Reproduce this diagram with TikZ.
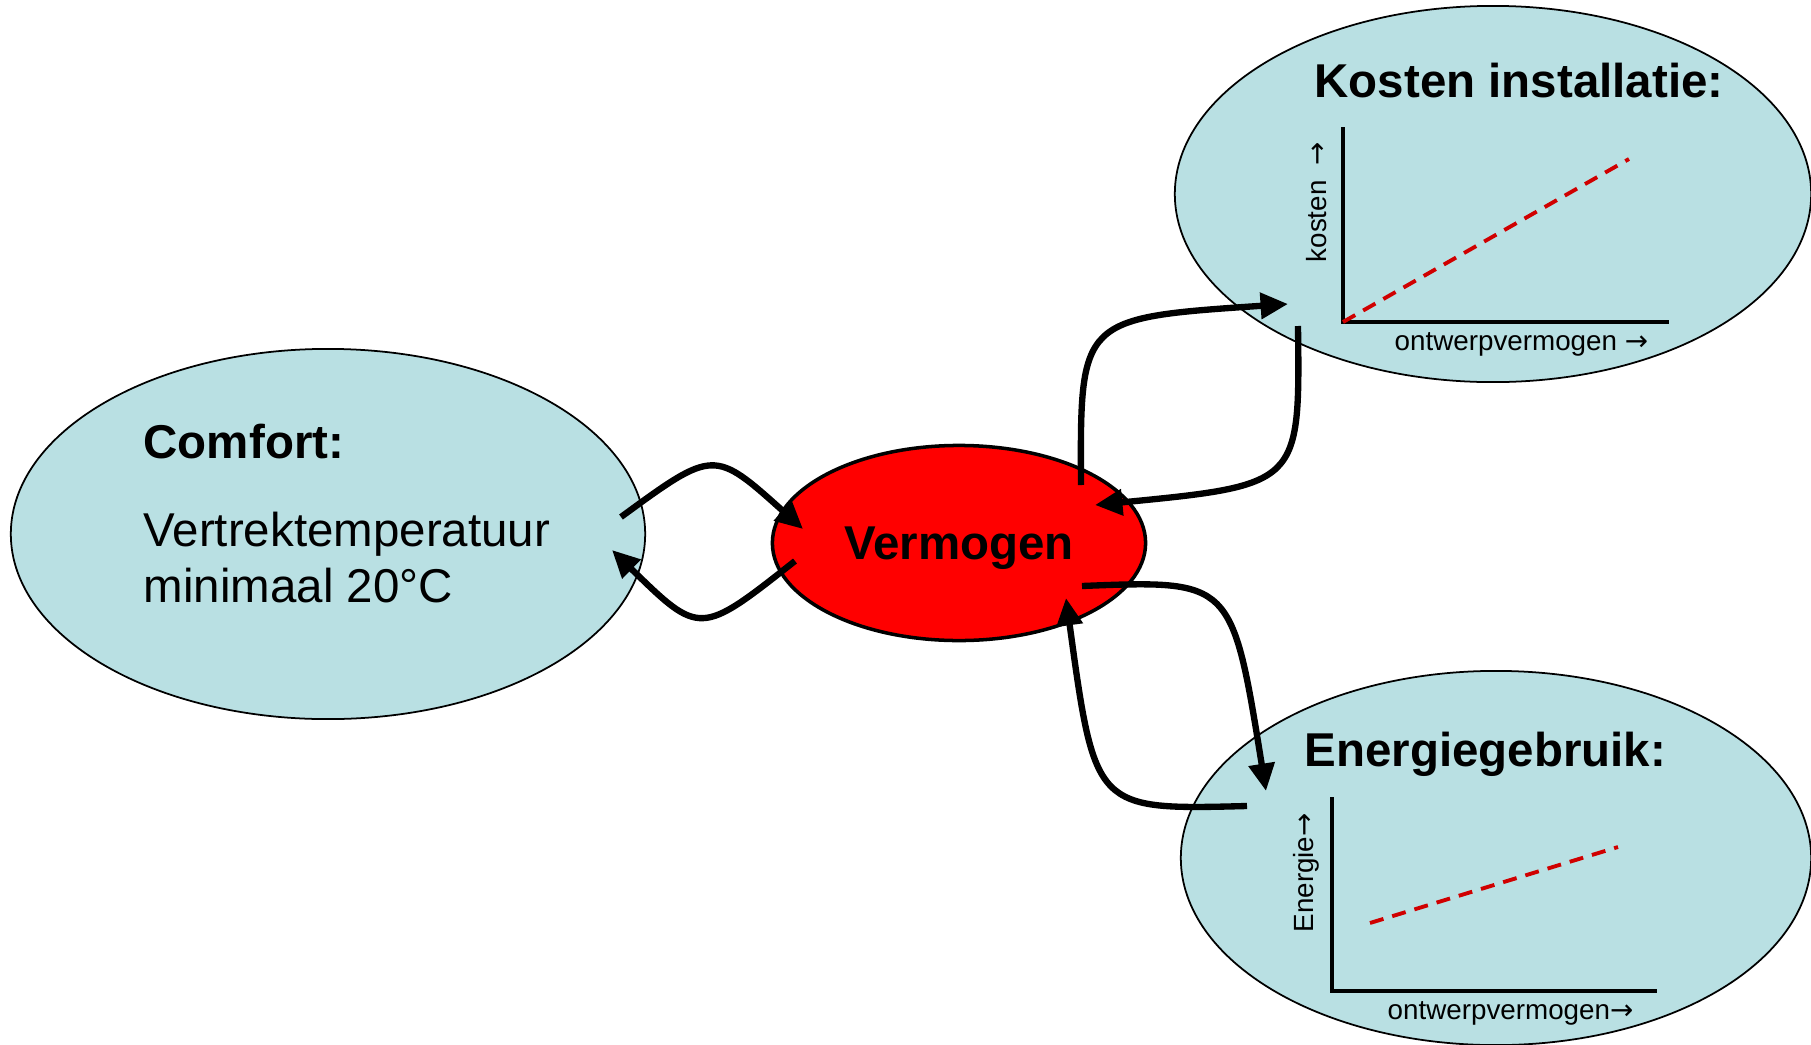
\documentclass[tikz,border=0pt]{standalone}
\usepackage{fontspec}
\setmainfont{Liberation Sans}
\newfontfamily\arrowfont{DejaVu Sans}
\usetikzlibrary{shapes.geometric,arrows.meta}

\definecolor{paleblue}{RGB}{185,224,227}
\definecolor{dashred}{RGB}{208,0,0}
\newcommand{\mapfont}{\fontsize{13.5pt}{16pt}\selectfont}
\newcommand{\axisfont}{\fontsize{7.9pt}{9pt}\selectfont}

\begin{document}
\begin{tikzpicture}[x=0.01cm,y=-0.01cm,
		blob/.style={ellipse,draw,line width=0.5pt,fill=paleblue,inner sep=0pt},
		core/.style={ellipse,draw,line width=1pt,fill=red,inner sep=0pt,text depth=0pt,font=\mapfont\bfseries},
		link/.style={line width=1.8pt,-{Triangle[length=7.8pt,width=7.2pt]}},
		axis/.style={line width=1.1pt,line join=miter},
		trend/.style={dashred,line width=1.1pt,dash pattern=on 4pt off 2.6pt},
		title/.style={anchor=base west,inner sep=0pt,font=\mapfont\bfseries},
		body/.style={anchor=base west,inner sep=0pt,font=\mapfont},
		tiny/.style={anchor=base west,inner sep=0pt,font=\axisfont}]
		\useasboundingbox (0,0) rectangle (1811,1045);

		\node[blob,minimum width=6.34cm,minimum height=3.70cm] (comfort) at (328,534) {};
		\node[blob,minimum width=6.36cm,minimum height=3.76cm] (kosten) at (1493,194) {};
		\node[blob,minimum width=6.30cm,minimum height=3.74cm] (energie) at (1496,858) {};
		\node[core,minimum width=3.73cm,minimum height=1.95cm] (vermogen) at (959,543) {Vermogen};

		\node[title] (comforttitle) at (143,458) {Comfort:};
		\node[body] (comfortline1) at (143,546) {Vertrektemperatuur};
		\node[body] (comfortline2) at (143,602) {minimaal 20°C};
		\node[title] (kostentitle) at (1314,97) {Kosten installatie:};
		\node[title] (energietitle) at (1304,766) {Energiegebruik:};

		\coordinate (K0) at (1343,322);
		\coordinate (Ktop) at (1343,127);
		\coordinate (Kright) at (1669,322);
		\coordinate (Kend) at (1629,159);

		\draw[axis] (Ktop) -- (K0) -- (Kright);
		\draw[trend] (K0) -- (Kend);
		\node[tiny,rotate=90] (kostenlabel) at (1326,263) {kosten \ {\arrowfont →}};
		\node[tiny] (kostenaxis) at (1394,350) {ontwerpvermogen {\arrowfont →}};

		\coordinate (E0) at (1332,991);
		\coordinate (Etop) at (1332,797);
		\coordinate (Eright) at (1657,991);
		\coordinate (Ea) at (1370,923);
		\coordinate (Eb) at (1618,847);

		\draw[axis] (Etop) -- (E0) -- (Eright);
		\draw[trend] (Ea) -- (Eb);
		\node[tiny,rotate=90] (energielabel) at (1313,933) {Energie{\arrowfont →}};
		\node[tiny] (energieaxis) at (1387,1019) {ontwerpvermogen{\arrowfont →}};

		\draw[link] ([shift={(293,-17)}]comfort.center) .. controls +(93,-68) and +(-89,-80) .. ([shift={(-156,-14)}]vermogen.center);
		\draw[link] ([shift={(-164,18)}]vermogen.center) .. controls +(-95,75) and +(88,86) .. ([shift={(284,16)}]comfort.center);

		\draw[link] ([shift={(122,-58)}]vermogen.center) .. controls +(-1,-167) and +(-208,14) .. ([shift={(-205,110)}]kosten.center);
		\draw[link] ([shift={(-195,132)}]kosten.center) .. controls +(2,159) and +(205,-20) .. ([shift={(136,-38)}]vermogen.center);

		\draw[link] ([shift={(123,43)}]vermogen.center) .. controls +(150,-6) and +(-34,-211) .. ([shift={(-230,-67)}]energie.center);
		\draw[link] ([shift={(-249,-52)}]energie.center) .. controls +(-152,4) and +(29,212) .. ([shift={(107,55)}]vermogen.center);
	\end{tikzpicture}
\end{document}
